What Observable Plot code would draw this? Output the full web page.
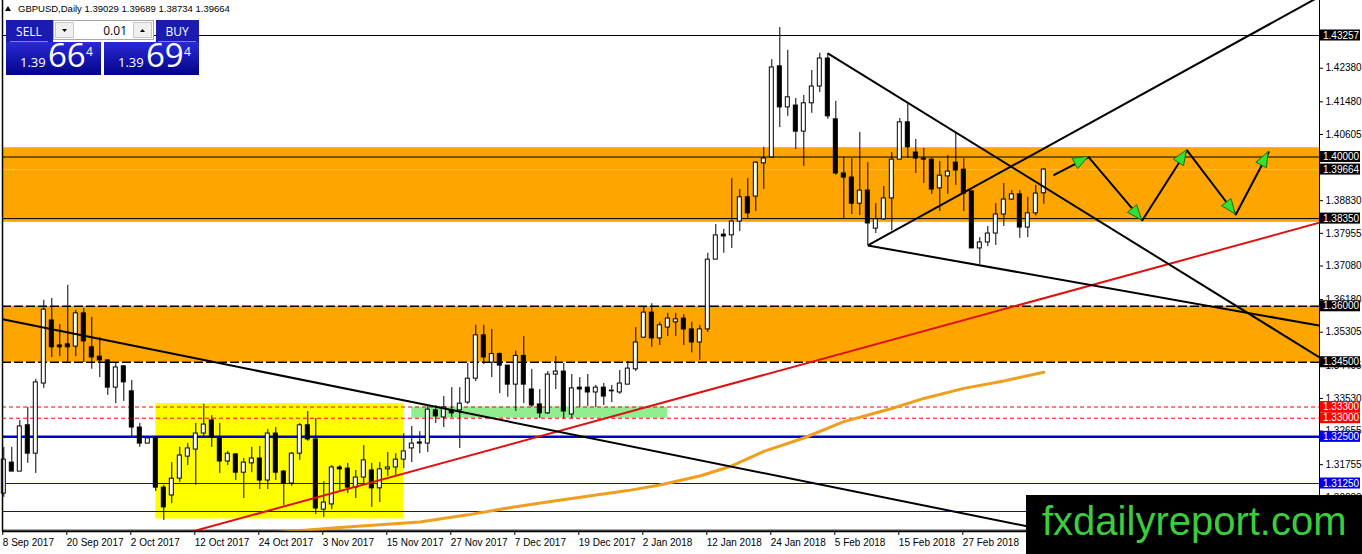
<!DOCTYPE html>
<html>
<head>
<meta charset="utf-8">
<script src="https://cdn.jsdelivr.net/npm/d3@7"></script>
<script src="https://cdn.jsdelivr.net/npm/@observablehq/plot@0.6"></script>
<style>
  html, body { margin: 0; padding: 0; background: #fff; }
  #wrap { position: relative; width: 1362px; height: 554px; overflow: hidden; }
  #chart { position: absolute; left: 0; top: 0; }
  .ov { position: absolute; }
</style>
</head>
<body>
<div id="wrap">
  <div id="chart"></div>
  <svg class="ov" id="panel" style="left:0;top:0" width="320" height="80"></svg>
  <svg class="ov" id="mark" style="left:1026px;top:495px" width="336" height="59"></svg>
</div>
<script>
// ---------- data ----------
const symbolTitle = "GBPUSD,Daily";
const headerPrices = ["1.39029", "1.39689", "1.38734", "1.39664"];

const labelBars = [0, 8, 16, 24, 32, 40, 48, 56, 64, 72, 80, 88, 96, 104, 112, 120];
const dateLabels = ["8 Sep 2017", "20 Sep 2017", "2 Oct 2017", "12 Oct 2017", "24 Oct 2017", "3 Nov 2017",
  "15 Nov 2017", "27 Nov 2017", "7 Dec 2017", "19 Dec 2017", "2 Jan 2018", "12 Jan 2018",
  "24 Jan 2018", "5 Feb 2018", "15 Feb 2018", "27 Feb 2018"];

const open = [1.3098,1.3181,1.3157,1.3281,1.3205,1.3393,1.3562,1.3495,1.3498,1.3492,
1.3581,1.3490,1.3465,1.3455,1.3382,1.3439,1.3372,1.3275,1.3232,1.3248,
1.3114,1.3093,1.3138,1.3197,1.3216,1.3259,1.3294,1.3248,1.3184,1.3203,
1.3154,1.3179,1.3192,1.3133,1.3259,1.3157,1.3125,1.3205,1.3281,1.3243,
1.3055,1.3069,1.3168,1.3165,1.3114,1.3141,1.3160,1.3112,1.3163,1.3168,
1.3189,1.3219,1.3235,1.3232,1.3321,1.3302,1.3321,1.3321,1.3342,1.3406,
1.3522,1.3449,1.3472,1.3441,1.3390,1.3467,1.3377,1.3337,1.3313,1.3417,
1.3425,1.3310,1.3382,1.3382,1.3369,1.3382,1.3372,1.3369,1.3390,1.3431,
1.3516,1.3583,1.3514,1.3543,1.3557,1.3567,1.3538,1.3503,1.3538,1.3725,
1.3792,1.3790,1.3827,1.3892,1.3894,1.3983,1.3999,1.4243,1.4133,1.4138,
1.4068,1.4144,1.4189,1.4264,1.4101,1.3956,1.3945,1.3875,1.3910,1.3808,
1.3833,1.3889,1.3993,1.4093,1.4012,1.3996,1.3993,1.3916,1.3948,1.3985,
1.3966,1.3908,1.3755,1.3771,1.3795,1.3846,1.3886,1.3900,1.3811,1.3849,
1.39029];
const high = [1.3222,1.3222,1.3294,1.3329,1.3404,1.3616,1.3621,1.3551,1.3656,1.3589,
1.3594,1.3570,1.3516,1.3457,1.3449,1.3441,1.3401,1.3286,1.3248,1.3248,
1.3120,1.3181,1.3222,1.3232,1.3286,1.3337,1.3307,1.3286,1.3211,1.3205,
1.3192,1.3222,1.3224,1.3270,1.3275,1.3160,1.3208,1.3286,1.3318,1.3299,
1.3130,1.3173,1.3173,1.3179,1.3160,1.3227,1.3179,1.3181,1.3208,1.3205,
1.3259,1.3278,1.3264,1.3334,1.3334,1.3358,1.3382,1.3382,1.3447,1.3549,
1.3549,1.3538,1.3475,1.3441,1.3480,1.3519,1.3431,1.3377,1.3425,1.3465,
1.3447,1.3417,1.3409,1.3417,1.3388,1.3393,1.3388,1.3428,1.3452,1.3543,
1.3599,1.3607,1.3557,1.3581,1.3581,1.3578,1.3557,1.3549,1.3742,1.3819,
1.3806,1.3942,1.3913,1.3942,1.3988,1.4026,1.4261,1.4347,1.4286,1.4157,
1.4165,1.4232,1.4278,1.4278,1.4149,1.3999,1.3996,1.4066,1.3985,1.3875,
1.3921,1.4012,1.4103,1.4144,1.4047,1.4023,1.3996,1.3988,1.4004,1.4063,
1.3996,1.3908,1.3784,1.3814,1.3875,1.3929,1.3910,1.3910,1.3892,1.3924,
1.39689];
const low = [1.3088,1.3157,1.3157,1.3179,1.3152,1.3380,1.3463,1.3465,1.3449,1.3465,
1.3449,1.3431,1.3409,1.3361,1.3339,1.3345,1.3251,1.3222,1.3232,1.3104,
1.3026,1.3071,1.3128,1.3173,1.3120,1.3248,1.3222,1.3152,1.3173,1.3133,
1.3085,1.3154,1.3109,1.3109,1.3133,1.3066,1.3117,1.3187,1.3238,1.3042,
1.3034,1.3055,1.3106,1.3098,1.3085,1.3122,1.3061,1.3074,1.3144,1.3144,
1.3165,1.3181,1.3205,1.3208,1.3286,1.3275,1.3302,1.3219,1.3337,1.3398,
1.3444,1.3409,1.3366,1.3356,1.3318,1.3339,1.3329,1.3299,1.3310,1.3377,
1.3299,1.3299,1.3329,1.3331,1.3329,1.3334,1.3342,1.3364,1.3390,1.3425,
1.3514,1.3490,1.3495,1.3519,1.3519,1.3495,1.3475,1.3455,1.3530,1.3725,
1.3742,1.3755,1.3800,1.3835,1.3854,1.3913,1.3996,1.4079,1.4109,1.4020,
1.3975,1.4117,1.4173,1.4101,1.3951,1.3835,1.3846,1.3843,1.3763,1.3795,
1.3830,1.3803,1.3993,1.3996,1.3956,1.3929,1.3900,1.3854,1.3900,1.3924,
1.3854,1.3755,1.3712,1.3760,1.3763,1.3814,1.3884,1.3782,1.3784,1.3842,
1.38734];
const close = [1.3189,1.3157,1.3278,1.3205,1.3396,1.3591,1.3490,1.3490,1.3490,1.3581,
1.3506,1.3463,1.3455,1.3382,1.3436,1.3396,1.3275,1.3232,1.3246,1.3114,
1.3061,1.3138,1.3200,1.3219,1.3259,1.3283,1.3248,1.3184,1.3205,1.3154,
1.3181,1.3192,1.3133,1.3259,1.3154,1.3125,1.3205,1.3281,1.3243,1.3058,
1.3074,1.3168,1.3163,1.3114,1.3141,1.3187,1.3112,1.3163,1.3168,1.3189,
1.3211,1.3232,1.3232,1.3323,1.3305,1.3329,1.3313,1.3339,1.3406,1.3522,
1.3463,1.3472,1.3441,1.3390,1.3467,1.3390,1.3334,1.3313,1.3417,1.3425,
1.3318,1.3380,1.3377,1.3369,1.3382,1.3358,1.3374,1.3393,1.3433,1.3503,
1.3583,1.3514,1.3549,1.3567,1.3565,1.3538,1.3503,1.3538,1.3725,1.3790,
1.3787,1.3827,1.3892,1.3849,1.3985,1.3996,1.4240,1.4133,1.4160,1.4068,
1.4144,1.4189,1.4264,1.4109,1.3956,1.3945,1.3875,1.3910,1.3822,1.3833,
1.3889,1.3993,1.4093,1.4026,1.3996,1.3993,1.3913,1.3950,1.3961,1.3964,
1.3902,1.3755,1.3771,1.3795,1.3846,1.3886,1.3900,1.3811,1.3849,1.3902,
1.39664];

// moving average (read at sample bars)
const maBars = [29, 34, 42, 52, 58, 64, 69, 78, 82, 87, 91, 95, 100, 105, 111, 115, 120, 125, 130];
const maValues = [1.2991, 1.2994, 1.3007, 1.3022, 1.3041, 1.3063, 1.3079, 1.3106, 1.3121, 1.3145,
  1.3172, 1.3211, 1.3247, 1.3291, 1.3326, 1.3353, 1.3380, 1.3400, 1.3423];

// horizontal levels
const blackLevels = [1.43257, 1.40000, 1.38350, 1.30000];
const bidLevel = [1.39664];
const dashedLevels = [1.36000, 1.34500];
const redLevels = [1.33300, 1.33000];
const blueLevel = [1.32500];
const navyLevels = [1.31250, 1.30500];

// boxed price labels on the axis
const blackBoxed = [1.43257, 1.40000, 1.39664, 1.38350, 1.36000, 1.34500];
const redBoxed = [1.33300, 1.33000];
const blueBoxed = [1.32500, 1.31250];

// regular axis ticks
const yTicks = [1.42380, 1.41480, 1.40605, 1.38830, 1.37955, 1.37080, 1.36180, 1.35305,
  1.34405, 1.33530, 1.32655, 1.31755, 1.30880];

// zones
const orangeZones = [{lo: 1.3825, hi: 1.4025}, {lo: 1.3450, hi: 1.3600}];
const yellowBox = [{b1: 19, b2: 50, lo: 1.3030, hi: 1.3339}];
const greenBox = [{b1: 51, b2: 83, lo: 1.3300, hi: 1.3330}];

// trend lines (bar index, price)
const blackTrends = [
  {b1: -0.16, p1: 1.3565, b2: 164.46, p2: 1.2852},
  {b1: 103, p1: 1.4278, b2: 164.46, p2: 1.3463},
  {b1: 108, p1: 1.3763, b2: 164.46, p2: 1.4430},
  {b1: 108, p1: 1.3763, b2: 164.46, p2: 1.3548}
];
const redTrends = [{b1: 0, p1: 1.2858, b2: 164.46, p2: 1.3824}];

// projected zigzag
const zigBars = [131.3, 135.6, 142.3, 147.9, 154.0, 158.1];
const zigPrices = [1.3952, 1.4000, 1.3830, 1.4018, 1.3846, 1.4013];

// ---------- build ----------
const xDom = [-0.1625, 164.46];
const yDom = [1.29964, 1.44195];
const candles = open.map((o, i) => ({i, o, h: high[i], l: low[i], c: close[i]}));
const ma = maBars.map((b, k) => ({b, p: maValues[k]}));
const zig = zigBars.map((b, k) => ({b, p: zigPrices[k]}));
const FONT = "'Liberation Sans', Arial, sans-serif";

const plot = Plot.plot({
  width: 1362, height: 554,
  marginLeft: 2, marginRight: 43, marginTop: 0, marginBottom: 23,
  x: {type: "linear", domain: xDom},
  y: {type: "linear", domain: yDom},
  style: {fontFamily: FONT, fontSize: "10px", background: "white", color: "black", overflow: "visible"},
  marks: [
    Plot.rect(orangeZones, {x1: () => xDom[0], x2: () => xDom[1], y1: "lo", y2: "hi", fill: "#FFA500"}),
    Plot.rect(yellowBox, {x1: "b1", x2: "b2", y1: "lo", y2: "hi", fill: "#FFFF00"}),
    Plot.rect(greenBox, {x1: "b1", x2: "b2", y1: "lo", y2: "hi", fill: "#90EE90"}),
    Plot.ruleY(blackLevels, {stroke: "black", strokeWidth: 1}),
    Plot.ruleY(bidLevel, {stroke: "#c0c0c0", strokeWidth: 1}),
    Plot.ruleY(dashedLevels, {stroke: "black", strokeWidth: 1.5, strokeDasharray: "9,3"}),
    Plot.ruleY(redLevels, {stroke: "#ff0000", strokeWidth: 1, strokeDasharray: "4,3"}),
    Plot.ruleY(blueLevel, {stroke: "#0000d0", strokeWidth: 2.5}),
    Plot.ruleY(navyLevels, {stroke: "#10109a", strokeWidth: 1}),
    // candles
    Plot.ruleX(candles, {x: "i", y1: "l", y2: "h", stroke: "black", strokeWidth: 1}),
    Plot.rect(candles, {filter: d => d.c >= d.o, x1: d => d.i - 0.25, x2: d => d.i + 0.25, y1: "o", y2: "c", fill: "white", stroke: "black", strokeWidth: 1}),
    Plot.rect(candles, {filter: d => d.c < d.o, x1: d => d.i - 0.25, x2: d => d.i + 0.25, y1: "o", y2: "c", fill: "black", stroke: "black", strokeWidth: 1}),
    // moving average
    Plot.line(ma, {x: "b", y: "p", stroke: "#f09e1e", strokeWidth: 3, clip: true}),
    // trend lines
    Plot.link(redTrends, {x1: "b1", y1: "p1", x2: "b2", y2: "p2", stroke: "#e01010", strokeWidth: 2, clip: true}),
    Plot.link(blackTrends, {x1: "b1", y1: "p1", x2: "b2", y2: "p2", stroke: "black", strokeWidth: 2, clip: true}),
    Plot.line(zig, {x: "b", y: "p", stroke: "black", strokeWidth: 2}),
    // frame
    Plot.ruleX([xDom[0]], {stroke: "black", strokeWidth: 1.5}),
    Plot.ruleX([xDom[1]], {stroke: "black", strokeWidth: 1}),
    Plot.ruleY([yDom[0]], {stroke: "black", strokeWidth: 1.5}),
    // axes
    Plot.axisY(yTicks, {anchor: "right", tickSize: 3, tickPadding: 3, tickFormat: d => d.toFixed(5), fontSize: 10, textAnchor: "start"}),
    Plot.axisX(labelBars, {anchor: "bottom", tickSize: 4, tickPadding: 3, tickFormat: d => dateLabels[labelBars.indexOf(d)], textAnchor: "start", dx: -1, fontSize: 10})
  ]
});
document.getElementById("chart").appendChild(plot);

// overlays using the plot's scales
const sx = plot.scale("x"), sy = plot.scale("y");
const svg = d3.select(plot);
const g = svg.append("g").attr("text-anchor", "start");
const pts = zig.map(d => [sx.apply(d.b), sy.apply(d.p)]);
for (let k = 1; k < pts.length; k++) {
  const [x0, y0] = pts[k - 1], [x1, y1] = pts[k];
  const a = Math.atan2(y1 - y0, x1 - x0), L = 15, W = 6;
  const bx = x1 - L * Math.cos(a), by = y1 - L * Math.sin(a);
  const px = -Math.sin(a) * W, py = Math.cos(a) * W;
  g.append("polygon")
    .attr("points", `${x1},${y1} ${bx + px},${by + py} ${bx - px},${by - py}`)
    .attr("fill", "#33e033").attr("stroke", "#157015").attr("stroke-width", 1);
}
const boxes = [[blackBoxed, "#000000"], [redBoxed, "#ff0000"], [blueBoxed, "#0000f0"]];
boxes.forEach(([vals, bg]) => vals.forEach(v => {
  const y = sy.apply(v);
  g.append("rect").attr("x", 1320).attr("y", y - 5.5).attr("width", 40).attr("height", 11).attr("fill", bg);
  g.append("text").attr("x", 1323).attr("y", y + 3.7).attr("fill", "white").attr("text-anchor", "start")
    .style("font-family", FONT).style("font-size", "10px").text(v.toFixed(5));
}));

// header and one-click panel
const p = d3.select("#panel");
const defs = p.append("defs");
const grad = defs.append("linearGradient").attr("id", "pg").attr("x1", 0).attr("y1", 0).attr("x2", 0).attr("y2", 1);
grad.append("stop").attr("offset", "0%").attr("stop-color", "#2a2ad6");
grad.append("stop").attr("offset", "100%").attr("stop-color", "#03038a");
p.append("path").attr("d", "M5,11 L8,6 L11,11 Z").attr("fill", "black");
p.append("text").attr("x", 18).attr("y", 12).style("font-family", FONT).style("font-size", "9.5px")
  .text(symbolTitle + " " + headerPrices.join(" "));
p.append("rect").attr("x", 6).attr("y", 20).attr("width", 47).attr("height", 22).attr("fill", "#1b1bb0");
p.append("rect").attr("x", 156).attr("y", 20).attr("width", 43).attr("height", 22).attr("fill", "#1b1bb0");
p.append("rect").attr("x", 6).attr("y", 42).attr("width", 95).attr("height", 33).attr("fill", "url(#pg)");
p.append("rect").attr("x", 104).attr("y", 42).attr("width", 95).attr("height", 33).attr("fill", "url(#pg)");
p.append("line").attr("x1", 10).attr("x2", 48).attr("y1", 41.5).attr("y2", 41.5).attr("stroke", "#8080e0");
p.append("line").attr("x1", 158).attr("x2", 196).attr("y1", 41.5).attr("y2", 41.5).attr("stroke", "#8080e0");
const PF = "'Open Sans', 'Noto Sans', sans-serif";
p.append("text").attr("x", 29).attr("y", 35.5).attr("text-anchor", "middle").attr("fill", "white")
  .style("font-family", PF).style("font-size", "12px").text("SELL");
p.append("text").attr("x", 177).attr("y", 35.5).attr("text-anchor", "middle").attr("fill", "white")
  .style("font-family", PF).style("font-size", "12px").text("BUY");
p.append("rect").attr("x", 53.5).attr("y", 20.5).attr("width", 100).attr("height", 19).attr("fill", "white").attr("stroke", "#a8a8a8");
p.append("rect").attr("x", 55.5).attr("y", 22.5).attr("width", 18).attr("height", 15).attr("fill", "#f0f0f0").attr("stroke", "#c8c8c8");
p.append("rect").attr("x", 133.5).attr("y", 22.5).attr("width", 18).attr("height", 15).attr("fill", "#f0f0f0").attr("stroke", "#c8c8c8");
p.append("path").attr("d", "M62,29 L67,29 L64.5,32 Z").attr("fill", "black");
p.append("path").attr("d", "M140,32 L145,32 L142.5,29 Z").attr("fill", "black");
p.append("text").attr("x", 127).attr("y", 35).attr("text-anchor", "end")
  .style("font-family", PF).style("font-size", "12px").text("0.01");
const priceTexts = [
  {x: 20, big: "66"}, {x: 118, big: "69"}
];
priceTexts.forEach(t => {
  p.append("text").attr("x", t.x).attr("y", 67).attr("fill", "white").style("font-family", PF).style("font-size", "13px").text("1.39");
  p.append("text").attr("x", t.x + 28).attr("y", 67).attr("fill", "white").style("font-family", PF).style("font-size", "33px").text(t.big);
  p.append("text").attr("x", t.x + 66).attr("y", 56).attr("fill", "white").style("font-family", PF).style("font-size", "12px").text("4");
});

// watermark
const m = d3.select("#mark");
m.append("rect").attr("width", 336).attr("height", 59).attr("fill", "black");
m.append("text").attr("x", 16).attr("y", 40).attr("fill", "#3ccc3c")
  .style("font-family", FONT).style("font-size", "40px").text("fxdailyreport.com");
</script>
</body>
</html>
